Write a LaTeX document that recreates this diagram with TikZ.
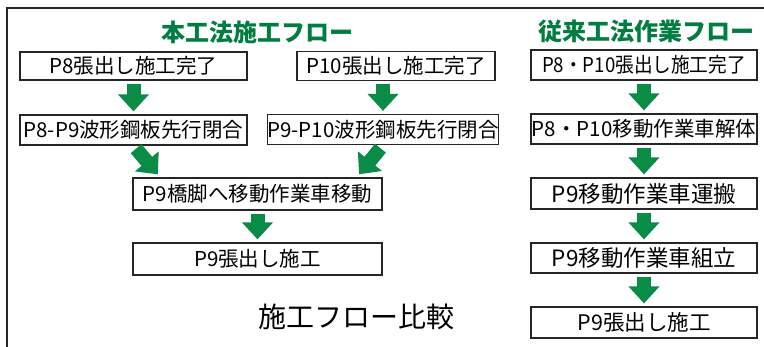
\documentclass[tikz,border=0pt]{standalone}
\usepackage{fontspec}
\setmainfont{Noto Sans CJK JP}
\usetikzlibrary{arrows.meta,calc}
\definecolor{flowgreen}{RGB}{10,140,70}
\definecolor{titlegreen}{RGB}{0,125,65}
\begin{document}
\begin{tikzpicture}[x=1pt,y=-1pt,
  box/.style={draw=black!85, line width=1.2pt, inner sep=0pt, minimum height=30pt,
    font=\fontsize{20.5}{22}\selectfont, fill=white},
  bigtext/.style={font=\fontsize{22.5}{24}\selectfont},
  flow/.style={line width=14pt, draw=flowgreen, -{Triangle[width=30pt,length=17pt]},
    shorten <=3pt, shorten >=3pt},
  ttl/.style={text=titlegreen, font=\fontsize{24}{26}\selectfont\bfseries, inner sep=0pt},
  captext/.style={font=\fontsize{28}{30}\selectfont, inner sep=0pt}
]
\fill[white] (0,0) rectangle (764,347);
\useasboundingbox (0,0) rectangle (764,347);
\draw[line width=1.5pt, black!85] (7,347) -- (7,8) -- (764,8);

% titles
\node[ttl] (t1) at (257,32) {本工法施工フロー};
\node[ttl] (t2) at (646,31) {従来工法作業フロー};
\node[captext] (t3) at (356,317) {施工フロー比較};

% left flow
\node[box, minimum width=227pt, minimum height=28pt] (A) at (133.5,66) {P8張出し施工完了};
\node[box, minimum width=198pt, minimum height=29pt] (B) at (396,66) {P10張出し施工完了};
\node[box, minimum width=227pt] (C) at (133.5,130) {P8-P9波形鋼板先行閉合};
\node[box, minimum width=226pt] (D) at (383,129.5) {P9-P10波形鋼板先行閉合};
\node[box, minimum width=249pt, minimum height=32pt] (E) at (257.5,194) {P9橋脚へ移動作業車移動};
\node[box, minimum width=249pt, minimum height=32pt] (F) at (257.5,259) {P9張出し施工};

% right flow
\node[box, minimum width=226pt] (R1) at (644,65) {\scalebox{0.91}[1]{P8・P10張出し施工完了}};
\node[box, minimum width=226pt] (R2) at (644,129) {P8・P10移動作業車解体};
\node[box, bigtext, minimum width=226pt, minimum height=31pt] (R3) at (644,193.5) {P9移動作業車運搬};
\node[box, bigtext, minimum width=226pt] (R4) at (644,258) {P9移動作業車組立};
\node[box, font=\fontsize{21.5}{23}\selectfont, minimum width=226pt, minimum height=31pt] (R5) at (644,322.5) {P9張出し施工};

% arrows
\draw[flow] (A.south) -- (C.north);
\draw[flow] (D.south |- B.south) -- (D.north);
\draw[flow, shorten <=4pt, shorten >=4pt] (C.south) -- ($(E.north west)+(28,0)$);
\draw[flow, shorten <=4pt, shorten >=4pt] (D.south) -- ($(E.north east)+(-26,0)$);
\draw[flow] (E.south) -- (F.north);
\draw[flow] (R1.south) -- (R2.north);
\draw[flow] (R2.south) -- (R3.north);
\draw[flow] (R3.south) -- (R4.north);
\draw[flow] (R4.south) -- (R5.north);
\end{tikzpicture}
\end{document}
